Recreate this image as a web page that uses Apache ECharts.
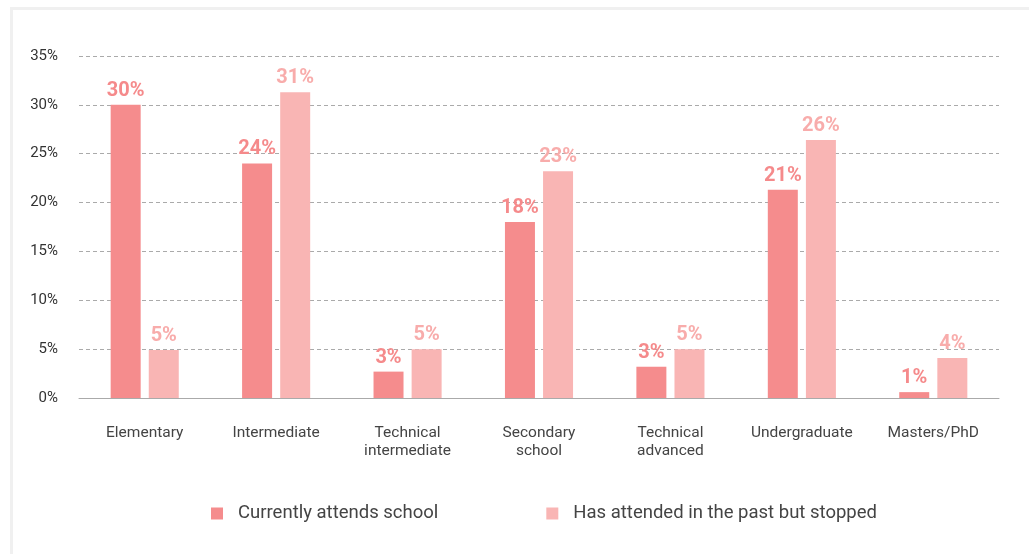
<!DOCTYPE html>
<html>
<head>
<meta charset="utf-8">
<script src="https://cdn.jsdelivr.net/npm/echarts@6/dist/echarts.min.js"></script>
<style>
  html, body { margin: 0; padding: 0; background: #ffffff; }
  #card {
    position: absolute; left: 10px; top: 7px; width: 1040px; height: 570px;
    border-top: 3px solid #f0f0f0; border-left: 3px solid #f0f0f0;
    background: #ffffff;
  }
  #chart { position: absolute; left: 0; top: 0; width: 1029px; height: 554px; }
</style>
</head>
<body>
<div id="card"></div>
<div id="chart"></div>
<script>
// Education level of respondents, share of each group (%)
const categories = ['Elementary', 'Intermediate', 'Technical\nintermediate', 'Secondary\nschool',
                    'Technical\nadvanced', 'Undergraduate', 'Masters/PhD'];
const seriesNames = ['Currently attends school', 'Has attended in the past but stopped'];
const currentlyAttends = [30.0, 24.0, 2.7, 18.0, 3.2, 21.3, 0.6];
const attendedStopped = [4.9, 31.3, 5.0, 23.2, 5.0, 26.4, 4.1];
const yTicks = [0, 5, 10, 15, 20, 25, 30, 35];

const colors = ['#f58c8d', '#f9b5b4'];
const labelColors = ['#f58a8b', '#f8acab'];

const chart = echarts.init(document.getElementById('chart'), null, { renderer: 'canvas' });

function barSeries(name, data, i) {
  return {
    name: name,
    type: 'bar',
    data: data,
    barWidth: 30,
    barGap: '27%',
    itemStyle: { color: colors[i] },
    label: {
      show: true,
      position: 'top',
      distance: 4,
      color: labelColors[i],
      fontFamily: 'Roboto',
      fontWeight: 'bold',
      fontSize: 20,
      formatter: p => Math.round(p.value) + '%'
    }
  };
}

chart.setOption({
  animation: false,
  backgroundColor: 'transparent',
  grid: { left: 79, right: 30, top: 56, bottom: 156, containLabel: false },
  legend: {
    bottom: 26,
    left: 206,
    itemWidth: 12,
    itemHeight: 12,
    itemGap: 108,
    icon: 'rect',
    textStyle: { fontFamily: 'Roboto', fontSize: 18.5, color: '#444', padding: [0, 0, 0, 10] },
    data: seriesNames
  },
  xAxis: {
    type: 'category',
    data: categories,
    axisTick: { show: false },
    axisLine: { lineStyle: { color: '#aaaaaa', width: 1 } },
    axisLabel: {
      margin: 26,
      fontFamily: 'Roboto',
      fontSize: 15.5,
      lineHeight: 18,
      color: '#444',
      interval: 0
    }
  },
  yAxis: {
    type: 'value',
    min: yTicks[0],
    max: yTicks[yTicks.length - 1],
    interval: 5,
    axisLine: { show: false },
    axisTick: { show: false },
    axisLabel: {
      margin: 21,
      fontFamily: 'Roboto',
      fontSize: 15,
      color: '#333',
      formatter: v => v + '%'
    },
    splitLine: { lineStyle: { color: '#aaaaaa', type: [4, 3], width: 1 } }
  },
  series: [
    barSeries(seriesNames[0], currentlyAttends, 0),
    barSeries(seriesNames[1], attendedStopped, 1)
  ]
});
</script>
</body>
</html>
